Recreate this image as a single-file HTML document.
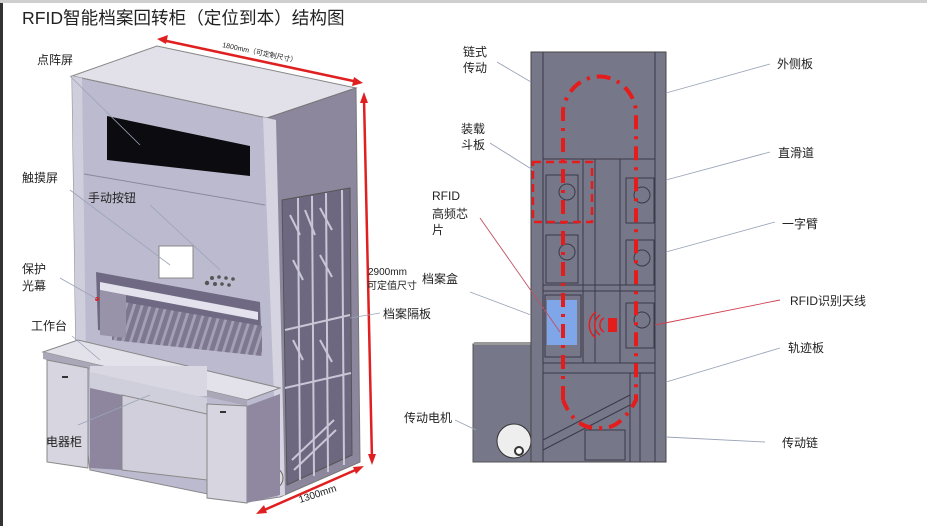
<!DOCTYPE html>
<html><head><meta charset="utf-8"><style>
html,body{margin:0;padding:0;background:#fff;}
svg{display:block;}
text{font-family:"Liberation Sans","Noto Sans CJK SC",sans-serif;fill:#222;}
</style></head><body>
<svg width="927" height="526" viewBox="0 0 927 526" xmlns="http://www.w3.org/2000/svg">
<defs>
<pattern id="slat" width="8" height="60" patternUnits="userSpaceOnUse" patternTransform="skewX(-18)">
<rect width="8" height="60" fill="#7d7790"/><rect x="0" width="3" height="60" fill="#a59fb5"/>
</pattern>
</defs>
<rect x="0" y="0" width="927" height="526" fill="#fff"/>
<rect x="0" y="0" width="927" height="3" fill="#cfcfcf"/>
<rect x="0" y="3" width="3" height="523" fill="#333"/>
<text x="22" y="24" font-size="17.6" fill="#333">RFID智能档案回转柜（定位到本）结构图</text>

<!-- LEFT CABINET -->
<polygon points="72,76 157,46 356,88 267,118" fill="#e2e1ea" stroke="#888" stroke-width="1"/>
<polygon points="267,118 356,88 360,462 280,497" fill="#8d879e" stroke="#777" stroke-width="1"/>
<polygon points="72,76 267,118 280,497 247,502 90,470 76,360" fill="#bcbace" stroke="#888"/>
<polygon points="72,76 82,78 86,360 76,360" fill="#cfcedc"/>
<polygon points="263,117 276,120 285,495 278,497" fill="#d5d4e0"/>
<line x1="84" y1="174" x2="265" y2="205" stroke="#8a889a"/>
<polygon points="107,116 250,146 250,176 107,160" fill="#0c0c10"/>
<rect x="159" y="246" width="34" height="32" fill="#fff" stroke="#888"/>
<g fill="#555"><circle cx="212" cy="278" r="2"/><circle cx="219" cy="277" r="1.8"/><circle cx="226" cy="278" r="1.8"/><circle cx="233" cy="279" r="1.8"/><circle cx="215" cy="284" r="2"/><circle cx="222" cy="284" r="1.8"/><circle cx="229" cy="285" r="1.8"/><circle cx="207" cy="283" r="2.2"/></g>
<polygon points="96,272 260,302 262,356 98,330" fill="#6f6983"/>
<polygon points="100,282 258,312 258,320 100,290" fill="#e4e2ec"/>
<polygon points="112,300 262,326 262,356 112,340" fill="url(#slat)"/>
<polygon points="100,290 126,295 126,338 100,335" fill="#9993aa"/>
<circle cx="97" cy="299" r="2" fill="#d22"/>
<polygon points="282,200 350,188 352,455 287,485" fill="#6d6880" stroke="#555"/>
<g stroke="#c9c6d6" stroke-width="2" fill="none">
<line x1="298" y1="198" x2="300" y2="480"/><line x1="312" y1="196" x2="314" y2="476"/><line x1="326" y1="193" x2="328" y2="472"/><line x1="342" y1="190" x2="344" y2="465"/>
<line x1="285" y1="330" x2="350" y2="315"/><line x1="285" y1="388" x2="351" y2="373"/>
<line x1="292" y1="460" x2="334" y2="420"/><line x1="294" y1="470" x2="336" y2="430"/>
<path d="M290 215 l10 20 M305 210 l10 25 M320 208 l12 22 M293 260 l10 20 M320 255 l12 22 M293 340 l10 20 M320 340 l12 22"/>
</g>
<circle cx="272" cy="478" r="11" fill="#ddd" stroke="#666"/>
<polygon points="43,352 78,340 280,388 247,400" fill="#e3e2ea" stroke="#888"/>
<polygon points="43,352 247,400 247,406 43,359" fill="#aaa8b8"/>
<rect x="90" y="366" width="117" height="30" fill="#d9d8e2"/>
<polygon points="90,372 207,398 207,414 90,388" fill="#cfcedb"/>
<polygon points="90,388 122,395 122,470 90,468" fill="#8d869e"/>
<polygon points="122,395 207,414 207,480 122,470" fill="#d0cfdb" stroke="#888"/>
<polygon points="47,360 88,368 88,468 47,462" fill="#d6d5e0" stroke="#888"/>
<polygon points="207,404 247,406 247,503 207,498" fill="#d6d5e0" stroke="#888"/>
<polygon points="247,406 280,394 280,495 247,503" fill="#8f88a0"/>
<rect x="62" y="376" width="6" height="2" fill="#333"/><rect x="220" y="411" width="6" height="2" fill="#333"/>

<g stroke="#e02020" stroke-width="2.5" fill="#e02020">
<line x1="162" y1="40" x2="358" y2="82"/>
<polygon points="157,39 168,35 166,44" stroke="none"/>
<polygon points="363,83 352,86 354,77" stroke="none"/>
<line x1="364" y1="98" x2="372" y2="460"/>
<polygon points="364,92 360,103 368,103" stroke="none"/>
<polygon points="372,465 368,454 376,454" stroke="none"/>
<line x1="262" y1="511" x2="360" y2="468"/>
<polygon points="256,514 264,505 267,513" stroke="none"/>
<polygon points="364,466 356,474 353,467" stroke="none"/>
</g>
<text x="222" y="47" font-size="7" fill="#e02020" transform="rotate(12 222 47)">1800mm（可定制尺寸）</text>
<text x="368" y="275" font-size="10" fill="#e02020">2900mm</text>
<text x="367" y="289" font-size="10" fill="#e02020">可定值尺寸</text>
<text x="300" y="503" font-size="10" fill="#e02020" transform="rotate(-18 300 503)">1300mm</text>

<g font-size="12">
<text x="37" y="64">点阵屏</text>
<text x="22" y="182">触摸屏</text>
<text x="88" y="202">手动按钮</text>
<text x="22" y="273">保护</text><text x="22" y="290">光幕</text>
<text x="31" y="330">工作台</text>
<text x="46" y="446">电器柜</text>
<text x="383" y="318">档案隔板</text>
</g>
<g stroke="#9aa4b8" stroke-width="0.8">
<line x1="70" y1="76" x2="140" y2="145"/>
<line x1="70" y1="190" x2="170" y2="265"/>
<line x1="150" y1="205" x2="220" y2="270"/>
<line x1="60" y1="278" x2="97" y2="299"/>
<line x1="72" y1="336" x2="100" y2="360"/>
<line x1="78" y1="425" x2="150" y2="395"/>
<line x1="380" y1="313" x2="350" y2="318"/>
</g>

<!-- RIGHT DIAGRAM -->
<rect x="473" y="344" width="58" height="118" fill="#77778a" stroke="#555"/>
<rect x="474" y="342" width="58" height="3" fill="#999"/>
<circle cx="514" cy="441" r="17" fill="#eee" stroke="#333"/>
<circle cx="519" cy="451" r="4" fill="#fff" stroke="#333" stroke-width="2"/>
<rect x="531" y="52" width="135" height="410" fill="#77778a" stroke="#444"/>
<g stroke="#3a3a48" stroke-width="1" fill="none">
<line x1="543" y1="52" x2="543" y2="462"/><line x1="655" y1="52" x2="655" y2="462"/>
<line x1="543" y1="159" x2="655" y2="159"/>
<rect x="543" y="285" width="112" height="6"/>
<rect x="543" y="363" width="112" height="10"/>
<line x1="583" y1="159" x2="583" y2="363"/><line x1="595" y1="159" x2="595" y2="363"/>
<line x1="620" y1="159" x2="620" y2="363"/>
<rect x="546" y="175" width="32" height="48"/><rect x="546" y="235" width="32" height="48"/>
<rect x="626" y="178" width="28" height="45"/><rect x="626" y="240" width="28" height="45"/><rect x="626" y="303" width="28" height="45"/>
<rect x="545" y="295" width="36" height="62"/>
<line x1="543" y1="450" x2="630" y2="405"/><line x1="543" y1="440" x2="630" y2="395"/>
<rect x="585" y="430" width="40" height="30"/>
<line x1="630" y1="373" x2="630" y2="462"/><line x1="640" y1="373" x2="640" y2="462"/>
<circle cx="567" cy="192" r="8"/><circle cx="567" cy="252" r="8"/><circle cx="642" cy="195" r="8"/><circle cx="642" cy="258" r="8"/><circle cx="642" cy="320" r="8"/>
</g>
<rect x="547" y="300" width="30" height="45" fill="#7ea6e8"/>
<path d="M563 400 V110 A37 40 0 0 1 636 110 V400 Q620 430 600 428 Q575 430 563 400" fill="none" stroke="#e51c1c" stroke-width="4" stroke-dasharray="14 7 3 7"/>
<rect x="533" y="162" width="59" height="60" fill="none" stroke="#e51c1c" stroke-width="2.5" stroke-dasharray="8 5"/>
<rect x="608" y="318" width="9" height="14" fill="#e51c1c"/>
<g fill="none" stroke="#e51c1c" stroke-width="1.5"><path d="M604 318 a8 8 0 0 0 0 14"/><path d="M600 315 a12 12 0 0 0 0 20"/><path d="M596 312 a16 16 0 0 0 0 26"/></g>

<g font-size="12">
<text x="463" y="56">链式</text><text x="463" y="72">传动</text>
<text x="461" y="133">装载</text><text x="461" y="149">斗板</text>
<text x="432" y="200">RFID</text><text x="432" y="218">高频芯</text><text x="432" y="234">片</text>
<text x="422" y="283">档案盒</text>
<text x="404" y="422">传动电机</text>
<text x="777" y="68">外侧板</text>
<text x="778" y="157">直滑道</text>
<text x="782" y="228">一字臂</text>
<text x="790" y="305">RFID识别天线</text>
<text x="788" y="352">轨迹板</text>
<text x="782" y="447">传动链</text>
</g>
<g stroke="#9aa4b8" stroke-width="0.9">
<line x1="497" y1="62" x2="531" y2="82"/>
<line x1="490" y1="143" x2="533" y2="170"/>
<line x1="470" y1="292" x2="531" y2="315"/>
<line x1="455" y1="420" x2="476" y2="430"/>
<line x1="770" y1="64" x2="666" y2="93"/>
<line x1="770" y1="152" x2="666" y2="180"/>
<line x1="775" y1="222" x2="666" y2="252"/>
<line x1="780" y1="348" x2="666" y2="382"/>
<line x1="765" y1="442" x2="666" y2="437"/>
</g>
<line x1="480" y1="218" x2="560" y2="332" stroke="#c05060" stroke-width="0.9"/>
<line x1="780" y1="300" x2="655" y2="325" stroke="#d04050" stroke-width="0.9"/>
</svg>
</body></html>
